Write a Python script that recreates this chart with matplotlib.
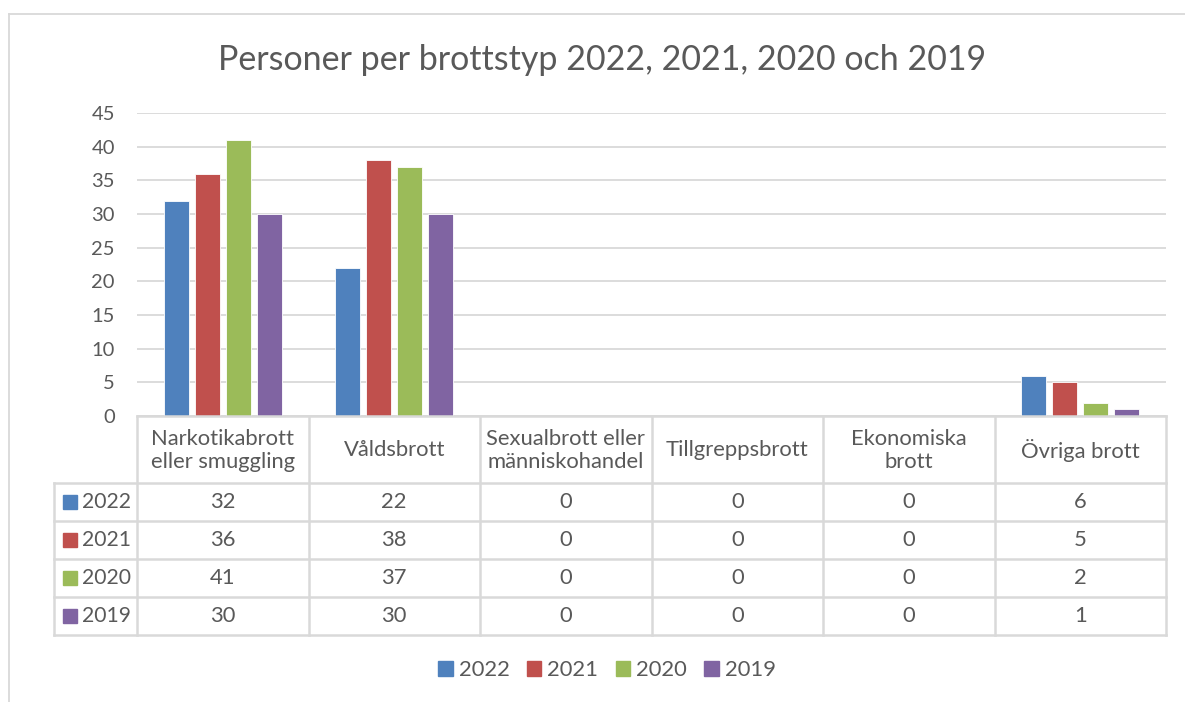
import matplotlib
matplotlib.use("Agg")
import matplotlib.pyplot as plt
from matplotlib.patches import Rectangle
from matplotlib.lines import Line2D

plt.rcParams['font.family'] = ['Lato', 'DejaVu Sans']

title = "Personer per brottstyp 2022, 2021, 2020 och 2019"
categories = ["Narkotikabrott\neller smuggling", "Våldsbrott", "Sexualbrott eller\nmänniskohandel",
              "Tillgreppsbrott", "Ekonomiska\nbrott", "Övriga brott"]
series_names = ["2022", "2021", "2020", "2019"]
v2022 = [32, 22, 0, 0, 0, 6]
v2021 = [36, 38, 0, 0, 0, 5]
v2020 = [41, 37, 0, 0, 0, 2]
v2019 = [30, 30, 0, 0, 0, 1]
series_values = [v2022, v2021, v2020, v2019]
colors = ["#4f81bd", "#c0504d", "#9bbb59", "#8064a2"]
yticks = [0, 5, 10, 15, 20, 25, 30, 35, 40, 45]

W, H = 1185, 702
fig = plt.figure(figsize=(W / 100, H / 100), dpi=100)
txt = "#595959"
grid = "#d9d9d9"

def fx(px):
    return px / W

def fy(py):
    return 1 - py / H

# bar axes
L, R, T, B = 137, 1166, 113, 416
ax = fig.add_axes([fx(L), fy(B), fx(R) - fx(L), fy(T) - fy(B)])
n = len(categories)
pitch, bw = 0.18, 0.146
for s, (vals, c) in enumerate(zip(series_values, colors)):
    xs = [i + 0.5 + (s - 1.5) * pitch for i in range(n)]
    ax.bar(xs, vals, width=bw, color=c, edgecolor="white", linewidth=0.6, zorder=3)
ax.set_xlim(0, n)
ax.set_ylim(0, 45)
ax.set_yticks(yticks)
ax.set_xticks([])
ax.tick_params(axis='y', length=0, pad=16, labelsize=14.5, labelcolor=txt)
ax.grid(axis='y', color=grid, linewidth=1.3, zorder=0)
for sp in ax.spines.values():
    sp.set_visible(False)

# background overlay for chart border
ov = fig.add_axes([0, 0, 1, 1], zorder=-1)
ov.set_xlim(0, W)
ov.set_ylim(H, 0)
ov.axis('off')
ov.patch.set_alpha(0)
ov.add_line(Line2D([9, W + 5], [14, 14], color=grid, lw=1.3))
ov.add_line(Line2D([9, 9], [14, H + 5], color=grid, lw=1.3))

# overlay for table, title
ov2 = fig.add_axes([0, 0, 1, 1])
ov2.set_xlim(0, W)
ov2.set_ylim(H, 0)
ov2.axis('off')
ov2.patch.set_alpha(0)

colw = (R - L) / n
col_edges = [L + i * colw for i in range(n + 1)]
row_edges = [416, 483, 521, 559, 597, 635]
tl = 54
lw = 1.8
ov2.add_line(Line2D([L, R], [row_edges[0]] * 2, color=grid, lw=lw))
for ye in row_edges[1:]:
    ov2.add_line(Line2D([tl, R], [ye, ye], color=grid, lw=lw))
ov2.add_line(Line2D([tl, tl], [row_edges[1], row_edges[-1]], color=grid, lw=lw))
for xe in col_edges:
    ov2.add_line(Line2D([xe, xe], [row_edges[0], row_edges[-1]], color=grid, lw=lw))

fs = 15.8
for i, cat in enumerate(categories):
    cx = col_edges[i] + colw / 2
    ov2.text(cx, (row_edges[0] + row_edges[1]) / 2 + 1, cat, ha='center', va='center',
             fontsize=fs, color=txt, linespacing=1.22)
    for s, vals in enumerate(series_values):
        cy = (row_edges[s + 1] + row_edges[s + 2]) / 2
        ov2.text(cx, cy, str(vals[i]), ha='center', va='center', fontsize=fs, color=txt)

for s, (name, c) in enumerate(zip(series_names, colors)):
    cy = (row_edges[s + 1] + row_edges[s + 2]) / 2
    ov2.add_patch(Rectangle((63, cy - 7), 14, 14, color=c))
    ov2.text(82, cy, name, ha='left', va='center', fontsize=15.2, color=txt)

ov2.text(602, 60, title, ha='center', va='center', fontsize=24.5, color=txt)

handles = [Rectangle((0, 0), 1, 1, color=c) for c in colors]
fig.legend(handles, series_names, loc='center', bbox_to_anchor=(fx(607), fy(670)),
           ncol=4, frameon=False, fontsize=15.8, handlelength=0.65, handleheight=0.65,
           handletextpad=0.27, columnspacing=0.8, labelcolor=txt)

fig.savefig("out.png", dpi=100, facecolor="white")
